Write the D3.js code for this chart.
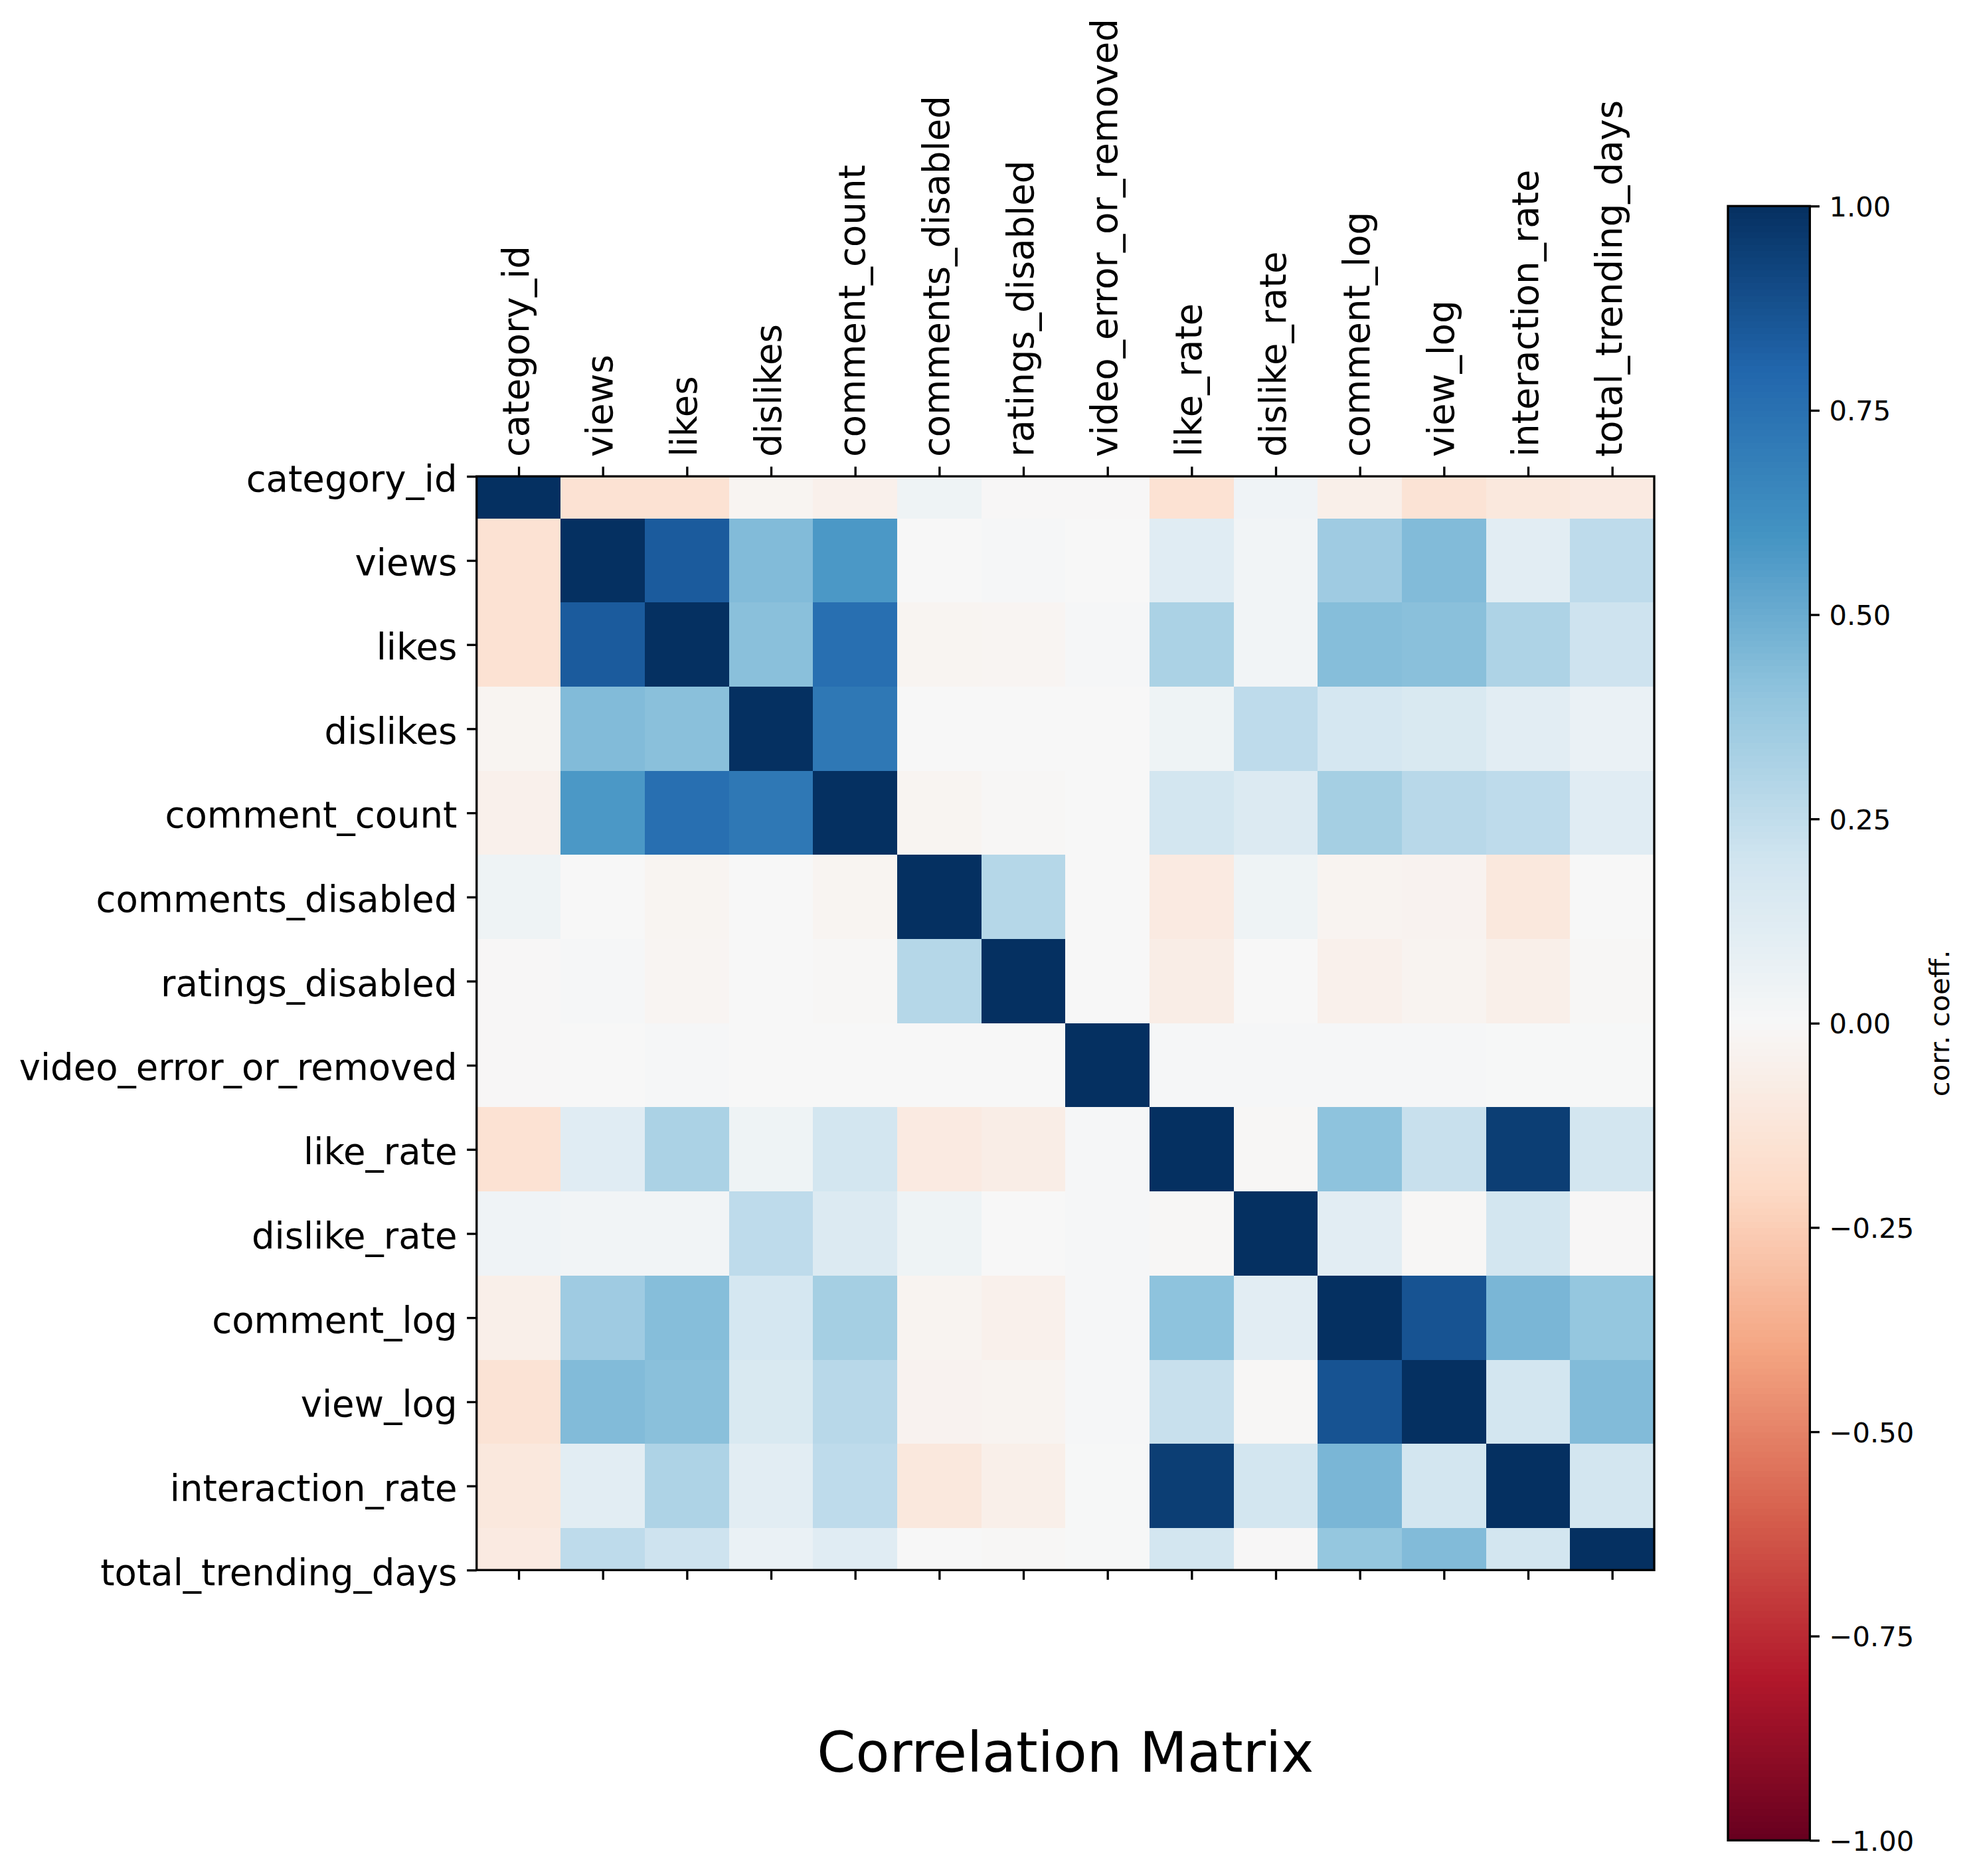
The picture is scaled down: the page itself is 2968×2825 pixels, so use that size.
<!DOCTYPE html>
<html>
<head>
<meta charset="utf-8">
<script src="https://cdn.jsdelivr.net/npm/d3@7/dist/d3.min.js"></script>
<style>
  html, body { margin: 0; padding: 0; background: #ffffff; }
  svg { display: block; font-family: "DejaVu Sans", sans-serif; }
</style>
</head>
<body>
<script>
// ---------------- data ----------------
const labels = ["category_id","views","likes","dislikes","comment_count","comments_disabled",
  "ratings_disabled","video_error_or_removed","like_rate","dislike_rate","comment_log",
  "view_log","interaction_rate","total_trending_days"];

const r_category_id         = [ 1.00, -0.15, -0.15, -0.025, -0.05,  0.05, -0.005, -0.005, -0.15,  0.04, -0.06, -0.14, -0.11, -0.09];
const r_views               = [-0.15,  1.00,  0.84,  0.44,  0.58,  0.00,  0.01,  0.00,  0.12,  0.03,  0.36,  0.44,  0.11,  0.26];
const r_likes               = [-0.15,  0.84,  1.00,  0.42,  0.76, -0.025, -0.02,  0.01,  0.32,  0.03,  0.43,  0.42,  0.31,  0.21];
const r_dislikes            = [-0.025, 0.44,  0.42,  1.00,  0.72,  0.00,  0.00,  0.00,  0.05,  0.26,  0.18,  0.16,  0.11,  0.07];
const r_comment_count       = [-0.05,  0.58,  0.76,  0.72,  1.00, -0.025, -0.01,  0.00,  0.19,  0.14,  0.34,  0.28,  0.26,  0.12];
const r_comments_disabled   = [ 0.05,  0.00, -0.025, 0.00, -0.025, 1.00,  0.29,  0.00, -0.09,  0.05, -0.03, -0.035, -0.11, 0.00];
const r_ratings_disabled    = [-0.005, 0.01, -0.02,  0.00, -0.01,  0.29,  1.00,  0.00, -0.07,  0.00, -0.05, -0.03, -0.06, -0.01];
const r_video_error         = [-0.005, 0.00,  0.01,  0.00,  0.00,  0.00,  0.00,  1.00,  0.01,  0.01,  0.01,  0.01,  0.005, 0.005];
const r_like_rate           = [-0.15,  0.12,  0.32,  0.05,  0.19, -0.09, -0.07,  0.01,  1.00, -0.01,  0.41,  0.23,  0.95,  0.19];
const r_dislike_rate        = [ 0.04,  0.03,  0.03,  0.26,  0.14,  0.05,  0.00,  0.01, -0.01,  1.00,  0.11, -0.01,  0.19, -0.005];
const r_comment_log         = [-0.06,  0.36,  0.43,  0.18,  0.34, -0.03, -0.05,  0.01,  0.41,  0.11,  1.00,  0.87,  0.46,  0.39];
const r_view_log            = [-0.14,  0.44,  0.42,  0.16,  0.28, -0.035, -0.03, 0.01,  0.23, -0.01,  0.87,  1.00,  0.19,  0.44];
const r_interaction_rate    = [-0.11,  0.11,  0.31,  0.11,  0.26, -0.11, -0.06,  0.005, 0.95,  0.19,  0.46,  0.19,  1.00,  0.19];
const r_total_trending_days = [-0.09,  0.26,  0.21,  0.07,  0.12,  0.00, -0.01,  0.005, 0.19, -0.005, 0.39,  0.44,  0.19,  1.00];

const rows = [r_category_id, r_views, r_likes, r_dislikes, r_comment_count, r_comments_disabled,
  r_ratings_disabled, r_video_error, r_like_rate, r_dislike_rate, r_comment_log, r_view_log,
  r_interaction_rate, r_total_trending_days];

const cbarTicks = [-1, -0.75, -0.5, -0.25, 0, 0.25, 0.5, 0.75, 1];
const titleText = "Correlation Matrix";
const cbarLabel = "corr. coeff.";

// matplotlib RdBu (ColorBrewer 11), low -> high
const rdbu = ["#67001f","#b2182b","#d6604d","#f4a582","#fddbc7","#f7f7f7",
              "#d1e5f0","#92c5de","#4393c3","#2166ac","#053061"];

// ---------------- layout ----------------
const W = 2968, H = 2825;
const ax = {x0: 717.7, x1: 2491, y0: 717.3, y1: 2364.3};
const cb = {x0: 2602, x1: 2725.3, y0: 310.3, y1: 2771.3};
const lw = 3.33, tickLen = 14.6, tickPad = 14.6;
const fsTick = 54.5, fsCb = 41.7, fsTitle = 83.3;

const color = d3.scaleLinear()
  .domain(d3.range(11).map(i => -1 + i * 0.2))
  .range(rdbu)
  .interpolate(d3.interpolateRgb)
  .clamp(true);

const svg = d3.select("body").append("svg")
  .attr("width", W).attr("height", H);
svg.append("rect").attr("width", W).attr("height", H).attr("fill", "#ffffff");

const x = d3.scaleLinear().domain([-0.5, labels.length - 0.5]).range([ax.x0, ax.x1]);
const y = d3.scaleLinear().domain([0, labels.length - 1]).range([ax.y0, ax.y1]);

svg.append("defs").append("clipPath").attr("id", "axclip")
  .append("rect").attr("x", ax.x0).attr("y", ax.y0)
  .attr("width", ax.x1 - ax.x0).attr("height", ax.y1 - ax.y0);

const cells = [];
rows.forEach((r, i) => r.forEach((v, j) => cells.push({i, j, v})));

svg.append("g").attr("clip-path", "url(#axclip)")
  .selectAll("rect").data(cells).join("rect")
  .attr("x", d => x(d.j - 0.5))
  .attr("y", d => y(d.i - 0.5))
  .attr("width", d => x(d.j + 0.5) - x(d.j - 0.5) + 0.6)
  .attr("height", d => y(d.i + 0.5) - y(d.i - 0.5) + 0.6)
  .attr("fill", d => color(d.v))
  .attr("shape-rendering", "crispEdges");

// frame
svg.append("rect")
  .attr("x", ax.x0).attr("y", ax.y0)
  .attr("width", ax.x1 - ax.x0).attr("height", ax.y1 - ax.y0)
  .attr("fill", "none").attr("stroke", "#000").attr("stroke-width", lw);

const idx = d3.range(labels.length);

// top axis (labels)
const topAxis = d3.axisTop(x).tickValues(idx).tickSize(tickLen).tickSizeOuter(0).tickFormat(() => "");
const gTop = svg.append("g").attr("transform", `translate(0,${ax.y0})`).call(topAxis);
gTop.select(".domain").remove();
gTop.selectAll(".tick line").attr("stroke", "#000").attr("stroke-width", lw);
svg.append("g").selectAll("text").data(idx).join("text")
  .attr("transform", d => `translate(${x(d) + 0.27 * fsTick},${ax.y0 - tickLen - tickPad}) rotate(-90)`)
  .attr("text-anchor", "start")
  .attr("font-size", fsTick)
  .attr("fill", "#000")
  .text(d => labels[d]);

// bottom axis (ticks only)
const botAxis = d3.axisBottom(x).tickValues(idx).tickSize(tickLen).tickSizeOuter(0).tickFormat(() => "");
const gBot = svg.append("g").attr("transform", `translate(0,${ax.y1})`).call(botAxis);
gBot.select(".domain").remove();
gBot.selectAll(".tick line").attr("stroke", "#000").attr("stroke-width", lw);

// left axis
const leftAxis = d3.axisLeft(y).tickValues(idx).tickSize(tickLen).tickSizeOuter(0).tickFormat(() => "");
const gLeft = svg.append("g").attr("transform", `translate(${ax.x0},0)`).call(leftAxis);
gLeft.select(".domain").remove();
gLeft.selectAll(".tick line").attr("stroke", "#000").attr("stroke-width", lw);
svg.append("g").selectAll("text").data(idx).join("text")
  .attr("x", ax.x0 - tickLen - tickPad)
  .attr("y", d => y(d) + 0.41 * fsTick)
  .attr("text-anchor", "end")
  .attr("font-size", fsTick)
  .attr("fill", "#000")
  .text(d => labels[d]);

// colorbar
const cy = d3.scaleLinear().domain([-1, 1]).range([cb.y1, cb.y0]);
const nBands = 256;
const bands = d3.range(nBands).map(k => -1 + (k + 0.5) * 2 / nBands);
svg.append("g").selectAll("rect").data(bands).join("rect")
  .attr("x", cb.x0)
  .attr("width", cb.x1 - cb.x0)
  .attr("y", v => cy(v + 1 / nBands))
  .attr("height", v => cy(v - 1 / nBands) - cy(v + 1 / nBands) + 0.8)
  .attr("fill", v => color(v))
  .attr("shape-rendering", "crispEdges");
svg.append("rect")
  .attr("x", cb.x0).attr("y", cb.y0)
  .attr("width", cb.x1 - cb.x0).attr("height", cb.y1 - cb.y0)
  .attr("fill", "none").attr("stroke", "#000").attr("stroke-width", lw);

const cAxis = d3.axisRight(cy).tickValues(cbarTicks).tickSize(tickLen).tickSizeOuter(0)
  .tickPadding(tickPad).tickFormat(d3.format(".2f"));
const gC = svg.append("g").attr("transform", `translate(${cb.x1},0)`).call(cAxis);
gC.select(".domain").remove();
gC.selectAll(".tick line").attr("stroke", "#000").attr("stroke-width", lw);
gC.selectAll(".tick text")
  .attr("font-size", fsCb)
  .attr("font-family", "DejaVu Sans")
  .attr("fill", "#000")
  .attr("dy", "0.36em");

svg.append("text")
  .attr("transform", `translate(2935,${(cb.y0 + cb.y1) / 2}) rotate(-90)`)
  .attr("text-anchor", "middle")
  .attr("font-size", fsCb)
  .attr("fill", "#000")
  .text(cbarLabel);

// title
svg.append("text")
  .attr("x", (ax.x0 + ax.x1) / 2)
  .attr("y", 2668)
  .attr("text-anchor", "middle")
  .attr("font-size", fsTitle)
  .attr("fill", "#000")
  .text(titleText);
</script>
</body>
</html>
